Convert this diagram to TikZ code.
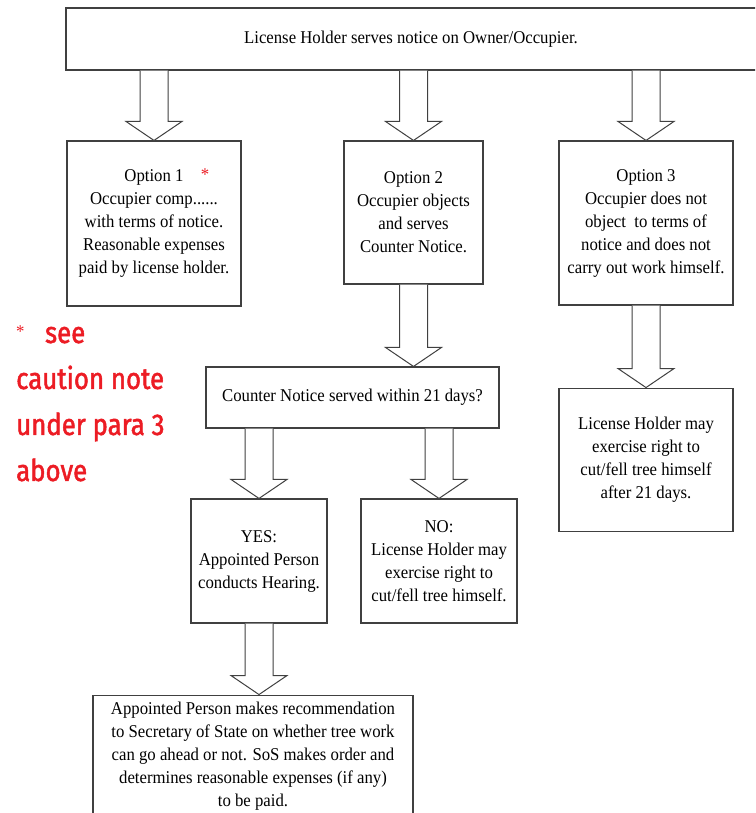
\documentclass[tikz,border=0pt]{standalone}
\usepackage{fontspec}
\setmainfont{Liberation Serif}[FakeStretch=0.93]
\newfontfamily\notefont{Fira Sans}[FakeStretch=0.86,FakeBold=1.6]
\usepackage{xcolor}
\usepackage{tikz}
\usetikzlibrary{positioning,calc}
\definecolor{notered}{RGB}{236,28,36}
% hollow block arrow from a point on one box down to the next box
\newcommand{\fatarrow}[2]{%
  \draw[fat] let \p1=(#1), \p2=(#2) in
    (\x1-14pt,\y1) -- (\x1-14pt,\y2+19pt) -- (\x1-28pt,\y2+19pt) -- (\x1,\y2)
    -- (\x1+28pt,\y2+19pt) -- (\x1+14pt,\y2+19pt) -- (\x1+14pt,\y1);}

\begin{document}
\begin{tikzpicture}[x=1pt,y=1pt,font=\fontsize{18}{23}\selectfont,
  box/.style={draw=black!75,line width=1.1pt,fill=white,align=center,inner sep=2pt},
  fat/.style={draw=black!75,line width=1pt,fill=white,line join=miter},
  note/.style={text=notered,align=left,inner sep=0pt,font=\notefont\fontsize{30}{46}\selectfont}]
  \useasboundingbox (0,0) rectangle (755,-813);
  \clip (0,0) rectangle (755,-813);
  % the top box runs off the right edge of the page
  \node[box,minimum width=724pt,minimum height=62pt] (top) at (428,-39)
    {\hspace*{-34pt}License Holder serves notice on Owner/Occupier.};
  \node[box,minimum width=174pt,minimum height=165pt] (opt1) at (154,-223.5)
    {Option 1\\Occupier comp......\\with terms of notice.\\Reasonable expenses\\paid by license holder.};
  \node[text=notered,inner sep=0pt] (star) at (205,-175) {*};
  \node[box,minimum width=139pt,minimum height=143pt] (opt2) at (413.5,-212.5)
    {Option 2\\Occupier objects\\and serves\\Counter Notice.};
  \node[box,minimum width=174pt,minimum height=164pt] (opt3) at (646,-223)
    {Option 3\\Occupier does not\\object\ \ to terms of\\notice and does not\\carry out work himself.};
  \node[box,minimum width=293pt,minimum height=61pt] (cn) at (352.5,-397.5)
    {Counter Notice served within 21 days?};
  \node[box,minimum width=174pt,minimum height=143pt,below=82pt of opt3] (r3)
    {License Holder may\\exercise right to\\cut/fell tree himself\\after 21 days.};
  \node[box,minimum width=136pt,minimum height=124pt] (yes) at (259,-561)
    {YES:\\Appointed Person\\conducts Hearing.};
  \node[box,minimum width=156pt,minimum height=124pt] (no) at (439,-561)
    {NO:\\License Holder may\\exercise right to\\cut/fell tree himself.};
  \node[box,minimum width=320pt,minimum height=122pt,below=71pt of yes,xshift=-6pt] (fin)
    {Appointed Person makes recommendation\\to Secretary of State on whether tree work\\can go ahead or not. SoS makes order and\\determines reasonable expenses (if any)\\to be paid.};
  \node[note,anchor=north west] (caution) at (16,-326)
    {\raisebox{5pt}{\rmfamily\fontsize{18}{18}\selectfont *}\ \ \ see\\caution note\\under para 3\\above};
  \fatarrow{top.south -| opt1.north}{opt1.north}
  \fatarrow{top.south -| opt2.north}{opt2.north}
  \fatarrow{top.south -| opt3.north}{opt3.north}
  \fatarrow{opt2.south}{opt2.south |- cn.north}
  \fatarrow{opt3.south}{r3.north}
  \fatarrow{cn.south -| yes.north}{yes.north}
  \fatarrow{cn.south -| no.north}{no.north}
  \fatarrow{yes.south}{yes.south |- fin.north}
\end{tikzpicture}
\end{document}
